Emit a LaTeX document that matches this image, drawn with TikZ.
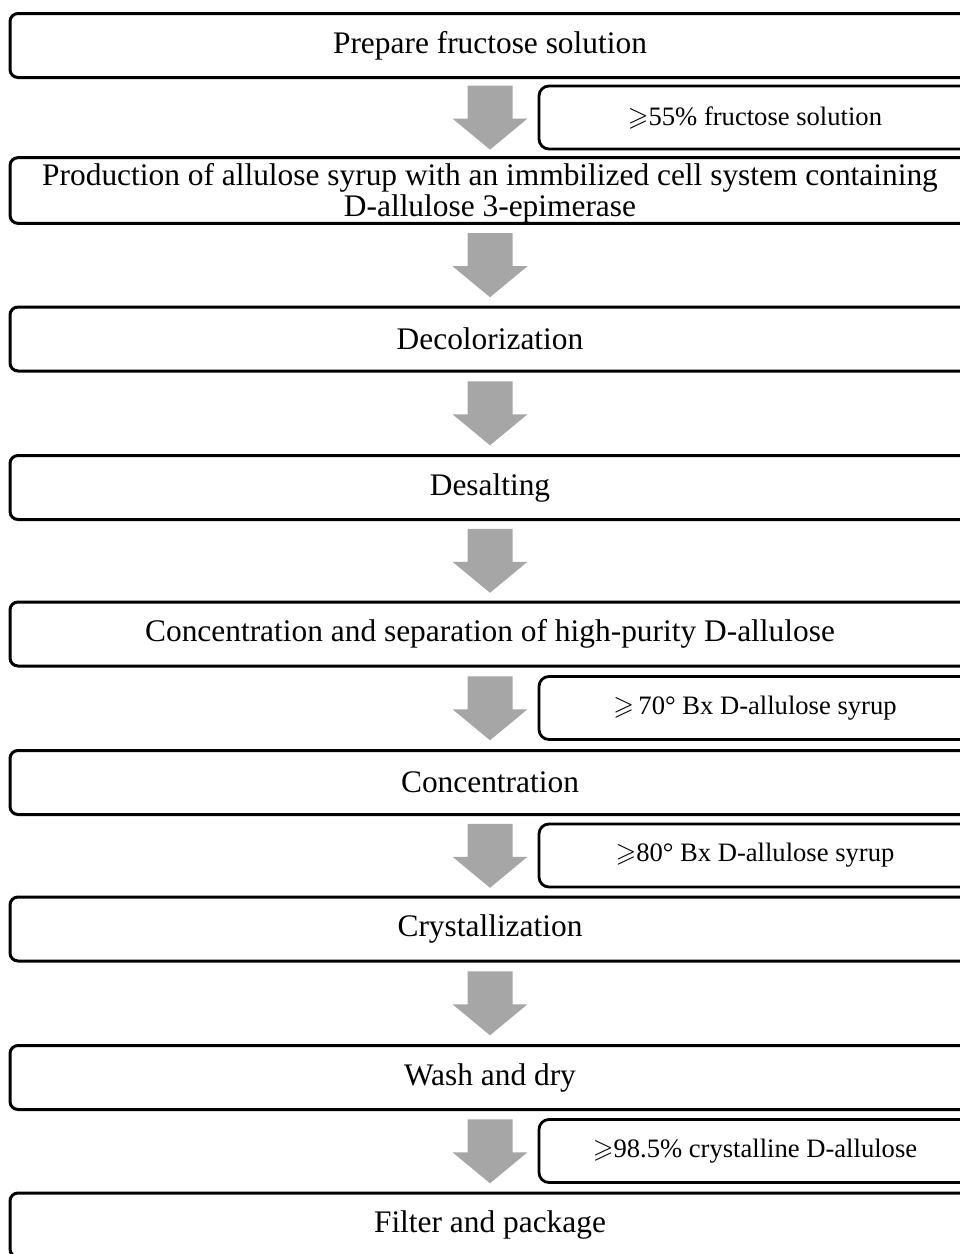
\documentclass[tikz,border=0pt]{standalone}
\usepackage{amssymb}
\usepackage{fontspec}
\setmainfont{Liberation Serif}
\usetikzlibrary{calc}
\definecolor{arrowgray}{RGB}{166,166,166}
\newcommand\mainsz{\fontsize{31.4}{31}\selectfont}
\newcommand\sidesz{\fontsize{26.6}{26.6}\selectfont}
\begin{document}
\begin{tikzpicture}[x=1pt,y=-1pt,
  mainbox/.style={draw, line width=3pt, rounded corners=8pt, minimum width=960pt,
    minimum height=64pt, inner sep=0pt, align=center, font=\mainsz},
  sidebox/.style={draw, line width=2.8pt, rounded corners=10pt, minimum width=432pt,
    minimum height=63pt, inner sep=0pt, align=center, font=\sidesz},
  flowarrow/.style={fill=arrowgray, draw=none}]
\clip (0,0) rectangle (960,1254);
\fill[white] (0,0) rectangle (960,1254);
% main steps
\node[mainbox] (b1) at (490,45.5) {Prepare fructose solution};
\node[mainbox] (b2) at (490,190.5) {\rule{0pt}{28pt}Production of allulose syrup with an immbilized cell system containing\\D-allulose 3-epimerase};
\node[mainbox] (b3) at (490,339) {Decolorization};
\node[mainbox] (b4) at (490,487.5) {Desalting};
\node[mainbox] (b5) at (490,634) {Concentration and separation of high-purity D-allulose};
\node[mainbox] (b6) at (490,782.5) {Concentration};
\node[mainbox] (b7) at (490,929) {Crystallization};
\node[mainbox] (b8) at (490,1077.5) {Wash and dry};
\node[mainbox] (b9) at (490,1225) {Filter and package};
% side notes
\node[sidebox] (s1) at (755,117.5) {$\geqslant$55\% fructose solution};
\node[sidebox] (s5) at (755,708) {$\geqslant$\,70° Bx D-allulose syrup};
\node[sidebox] (s6) at (755,855.5) {$\geqslant$80° Bx D-allulose syrup};
\node[sidebox] (s8) at (755,1151) {$\geqslant$98.5\% crystalline D-allulose};
% arrows between steps
\foreach \a/\b in {b1/b2,b2/b3,b3/b4,b4/b5,b5/b6,b6/b7,b7/b8,b8/b9}{
  \path (\a.south) -- (\b.north) coordinate[midway] (m\a);
  \fill[flowarrow, shift={(m\a)}] (-22.5,-32) -- (22.5,-32) -- (22.5,1) -- (37.5,1)
    -- (0,32) -- (-37.5,1) -- (-22.5,1) -- cycle;
}
\end{tikzpicture}
\end{document}
